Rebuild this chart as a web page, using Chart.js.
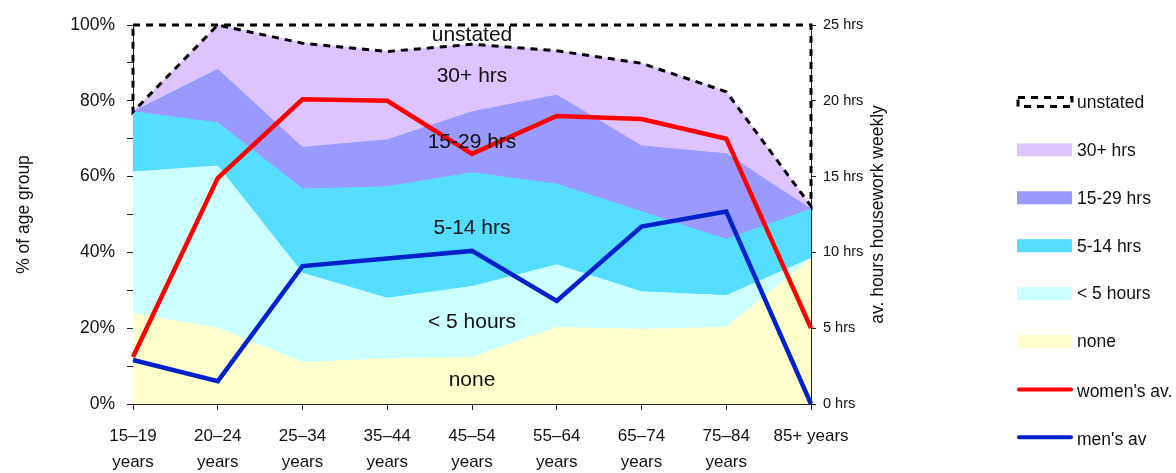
<!DOCTYPE html>
<html>
<head>
<meta charset="utf-8">
<script src="https://cdn.jsdelivr.net/npm/chart.js@4.4.1/dist/chart.umd.min.js"></script>
<style>
  html, body { margin: 0; padding: 0; background: #fff; }
  #wrap { width: 1176px; height: 473px; position: relative; }
</style>
</head>
<body>
<div id="wrap"><canvas id="houseworkChart"></canvas></div>
<script>
// Age groups on the bottom axis
const ageGroups = [
    ['15–19', 'years'], ['20–24', 'years'], ['25–34', 'years'], ['35–44', 'years'],
    ['45–54', 'years'], ['55–64', 'years'], ['65–74', 'years'], ['75–84', 'years'], '85+ years'
];

// Share of each age group (%) by weekly housework, bottom band first
const noneShare     = [23.9, 20.0, 11.0, 11.9, 12.3, 20.2, 19.7, 20.2, 38.4];
const under5Share   = [37.3, 42.8, 23.5, 16.0, 18.7, 16.5,  9.9,  8.4,  0.0];
const from5Share    = [15.9, 11.4, 22.2, 29.4, 30.0, 21.3, 21.1, 14.8, 13.0];
const from15Share   = [ 0.0, 14.1, 11.0, 12.4, 16.1, 23.5, 17.4, 22.6,  0.0];
const over30Share   = [ 0.0, 11.7, 27.5, 23.3, 17.8, 11.7, 21.8, 16.4,  0.8];
const unstatedShare = [22.9,  0.0,  4.8,  7.0,  5.1,  6.8, 10.1, 17.6, 47.8];

// Average weekly housework hours
const womensAvg = [3.1, 14.9, 20.1, 20.0, 16.5, 19.0, 18.8, 17.5, 5.0];
const mensAvg   = [2.9,  1.5,  9.1,  9.6, 10.1,  6.8, 11.7, 12.7, 0.0];

// Band names, written inside the plot over the 45–54 column
const bandNames = ['none', '< 5 hours', '5-14 hrs', '15-29 hrs', '30+ hrs', 'unstated'];
const bandLabelAt = [6.3, 21.7, 46.4, 69.2, 86.4, 97.4]; // % height of each name
const labelColumn = 4;

const FONT = "'Liberation Sans', Arial, Helvetica, sans-serif";
const NARROW = "'Liberation Sans Narrow', 'Arial Narrow', 'Liberation Sans', sans-serif";
const INK = '#111';

Chart.defaults.font.family = FONT;
Chart.defaults.color = INK;

const bandColors = ['#FFFFCC', '#CCFFFF', '#55DDFF', '#9999FF', '#DDC4FF', '#FFFFFF'];
const bandData = [noneShare, under5Share, from5Share, from15Share, over30Share, unstatedShare];

const bandSets = bandData.map((vals, i) => ({
    label: bandNames[i],
    data: vals,
    yAxisID: 'y',
    backgroundColor: bandColors[i],
    borderColor: bandColors[i],
    borderWidth: i === 5 ? 0 : 1,
    fill: i === 0 ? 'origin' : (i === 5 ? false : '-1'),
    pointRadius: 0,
    tension: 0
}));

const lineSets = [
    { label: "women's av.", data: womensAvg, borderColor: '#FF0000' },
    { label: "men's av", data: mensAvg, borderColor: '#0022CC' }
].map(d => Object.assign(d, {
    yAxisID: 'y2',
    borderWidth: 4.5,
    backgroundColor: d.borderColor,
    fill: false,
    pointRadius: 0,
    tension: 0
}));

// lines first so they are drawn on top of the bands
const datasets = lineSets.concat(bandSets);
const IDX_OVER30 = 6, IDX_UNSTATED = 7;

// Dashed outline, band names, axis titles and legend
const overlay = {
    id: 'overlay',
    afterDraw(chart) {
        const ctx = chart.ctx;
        const area = chart.chartArea;
        const xs = chart.scales.x, ys = chart.scales.y;

        // unstated band outline
        const top = chart.getDatasetMeta(IDX_UNSTATED).data;
        const low = chart.getDatasetMeta(IDX_OVER30).data;
        ctx.save();
        ctx.beginPath();
        top.forEach((p, i) => i ? ctx.lineTo(p.x, p.y) : ctx.moveTo(p.x, p.y));
        for (let i = low.length - 1; i >= 0; i--) ctx.lineTo(low[i].x, low[i].y);
        ctx.closePath();
        ctx.setLineDash([7, 6]);
        ctx.lineWidth = 3;
        ctx.strokeStyle = '#000';
        ctx.stroke();
        ctx.restore();

        // band names
        ctx.save();
        ctx.fillStyle = INK;
        ctx.font = '21px ' + FONT;
        ctx.textAlign = 'center';
        ctx.textBaseline = 'middle';
        const lx = xs.getPixelForValue(labelColumn);
        bandNames.forEach((name, i) => ctx.fillText(name, lx, ys.getPixelForValue(bandLabelAt[i])));
        ctx.restore();

        // axis titles, both reading bottom to top
        const midY = (area.top + area.bottom) / 2;
        ctx.save();
        ctx.fillStyle = INK;
        ctx.font = '17.5px ' + FONT;
        ctx.textAlign = 'center';
        ctx.textBaseline = 'middle';
        ctx.translate(24, midY);
        ctx.rotate(-Math.PI / 2);
        ctx.fillText('% of age group', 0, 0);
        ctx.restore();
        ctx.save();
        ctx.fillStyle = INK;
        ctx.font = '17.5px ' + FONT;
        ctx.textAlign = 'center';
        ctx.textBaseline = 'middle';
        ctx.translate(area.right + 67, midY);
        ctx.rotate(-Math.PI / 2);
        ctx.fillText('av. hours housework weekly', 0, 0);
        ctx.restore();

        // legend
        const order = [7, 6, 5, 4, 3, 2, 0, 1];
        const bx = 1017, bw = 55, tx = 1077;
        ctx.save();
        ctx.font = '17.5px ' + FONT;
        ctx.textBaseline = 'middle';
        ctx.textAlign = 'left';
        order.forEach((di, k) => {
            const ds = chart.data.datasets[di];
            const yc = 102 + k * 47.9;
            if (di === IDX_UNSTATED) {
                ctx.save();
                ctx.setLineDash([7, 6]);
                ctx.lineWidth = 3;
                ctx.strokeStyle = '#000';
                ctx.strokeRect(bx + 1, yc - 4.5, bw - 1, 9);
                ctx.restore();
            } else if (ds.yAxisID === 'y2') {
                ctx.save();
                ctx.beginPath();
                ctx.moveTo(bx + 2, yc);
                ctx.lineTo(bx + bw - 1, yc);
                ctx.lineWidth = 4;
                ctx.lineCap = 'round';
                ctx.strokeStyle = ds.borderColor;
                ctx.stroke();
                ctx.restore();
            } else {
                ctx.fillStyle = ds.backgroundColor;
                ctx.fillRect(bx, yc - 6.5, bw, 13);
            }
            ctx.fillStyle = INK;
            ctx.fillText(ds.label, tx, yc + (ds.yAxisID === 'y2' ? 3 : 1));
        });
        ctx.restore();
    }
};

const ctx = document.getElementById('houseworkChart').getContext('2d');
const houseworkChart = new Chart(ctx, {
    type: 'line',
    data: { labels: ageGroups, datasets: datasets },
    plugins: [overlay],
    options: {
        responsive: true,
        maintainAspectRatio: false,
        animation: false,
        layout: { padding: { top: 25, left: 0, right: 0, bottom: 0 } },
        plugins: {
            legend: { display: false },
            tooltip: { enabled: false }
        },
        scales: {
            x: {
                z: 1,
                offset: false,
                grid: { drawOnChartArea: false, tickLength: 6, color: '#222' },
                border: { color: '#222' },
                ticks: {
                    autoSkip: false, maxRotation: 0, padding: 13,
                    font: { size: 17, lineHeight: 1.55 }, color: INK
                },
                afterFit: s => { s.height = 69; }
            },
            y: {
                z: 1,
                stacked: true,
                min: 0, max: 100,
                grid: { drawOnChartArea: false, tickLength: 6, color: '#222' },
                border: { color: '#222' },
                ticks: {
                    stepSize: 10, padding: 12,
                    font: { size: 17.5 }, color: INK,
                    callback: v => (v % 20 === 0 ? v + '%' : '')
                },
                afterFit: s => { s.width = 133; }
            },
            y2: {
                position: 'right',
                min: 0, max: 25,
                grid: { drawOnChartArea: false, tickLength: 5, color: '#222' },
                border: { color: '#222' },
                ticks: {
                    stepSize: 5, padding: 7,
                    font: { size: 14.5, family: NARROW }, color: INK,
                    callback: v => v + ' hrs'
                },
                afterFit: s => { s.width = 365; }
            }
        }
    }
});
</script>
</body>
</html>
